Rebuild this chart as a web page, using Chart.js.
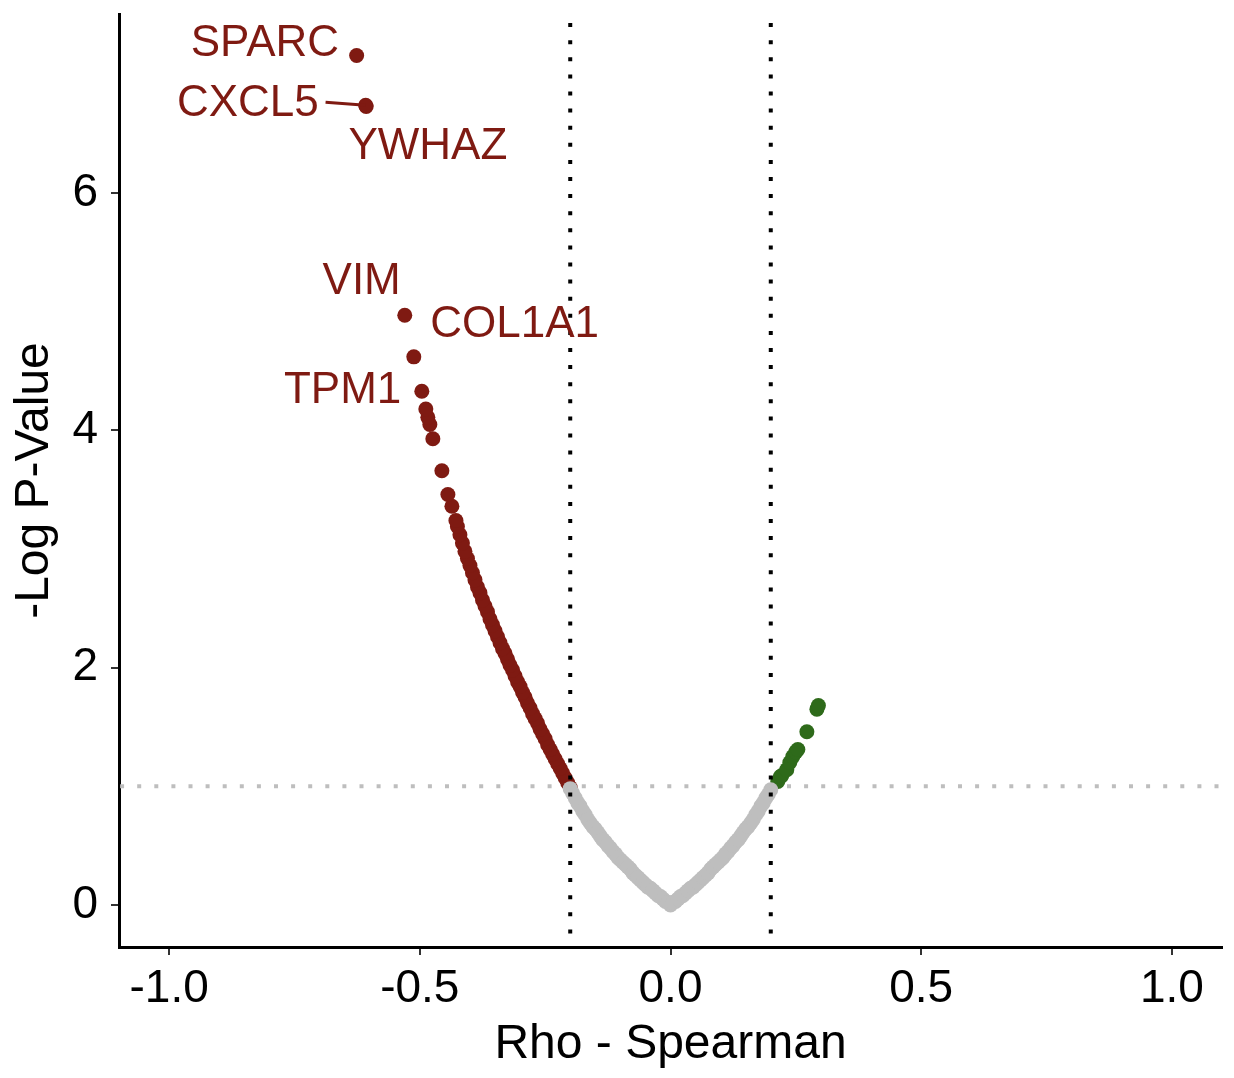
<!DOCTYPE html>
<html>
<head>
<meta charset="utf-8">
<script src="https://cdn.jsdelivr.net/npm/chart.js@4.4.1/dist/chart.umd.min.js"></script>
<style>
  body { margin: 0; background: #fff; }
  canvas { display: block; }
</style>
</head>
<body>
<canvas id="volcano" width="1234" height="1078"></canvas>
<script>
// tick labels
const xTicks = [-1.0, -0.5, 0.0, 0.5, 1.0];
const yTicks = [0, 2, 4, 6];

// not significant (grey)
const greyRho = [-0.200, -0.190, -0.180, -0.170, -0.160, -0.150, -0.140, -0.130, -0.120, -0.110,
                 -0.100, -0.090, -0.080, -0.070, -0.060, -0.050, -0.040, -0.030, -0.020, -0.010,
                  0.000,  0.010,  0.020,  0.030,  0.040,  0.050,  0.060,  0.070,  0.080,  0.090,
                  0.100,  0.110,  0.120,  0.130,  0.140,  0.150,  0.160,  0.170,  0.180,  0.190, 0.200,
                 -0.195, -0.185, -0.175, -0.165, -0.155, -0.145, -0.135, -0.125, -0.115, -0.105,
                 -0.095, -0.085, -0.075, -0.065, -0.055, -0.045, -0.035, -0.025, -0.015, -0.005,
                  0.005,  0.015,  0.025,  0.035,  0.045,  0.055,  0.065,  0.075,  0.085,  0.095,
                  0.105,  0.115,  0.125,  0.135,  0.145,  0.155,  0.165,  0.175,  0.185,  0.195];
const greyLogP = [0.98, 0.90, 0.83, 0.76, 0.69, 0.64, 0.58, 0.53, 0.48, 0.43,
                  0.38, 0.34, 0.30, 0.25, 0.21, 0.17, 0.14, 0.10, 0.07, 0.03,
                  0.00, 0.03, 0.07, 0.10, 0.14, 0.17, 0.21, 0.25, 0.30, 0.34,
                  0.38, 0.43, 0.48, 0.53, 0.58, 0.64, 0.69, 0.76, 0.83, 0.90, 0.97,
                  0.94, 0.86, 0.79, 0.72, 0.66, 0.61, 0.55, 0.50, 0.45, 0.40,
                  0.36, 0.32, 0.27, 0.23, 0.19, 0.15, 0.12, 0.08, 0.05, 0.02,
                  0.02, 0.05, 0.08, 0.12, 0.15, 0.19, 0.23, 0.27, 0.32, 0.36,
                  0.40, 0.45, 0.50, 0.55, 0.61, 0.66, 0.72, 0.79, 0.86, 0.93];

// negative correlation, significant (red)
const redRho = [-0.200, -0.205, -0.210, -0.215, -0.220, -0.225, -0.230, -0.235, -0.240, -0.245,
                -0.250, -0.255, -0.260, -0.265, -0.270, -0.275, -0.280, -0.285, -0.290, -0.295,
                -0.300, -0.305, -0.310, -0.315, -0.320, -0.325, -0.330, -0.335, -0.340, -0.345,
                -0.350, -0.355, -0.360, -0.365, -0.370, -0.375, -0.380, -0.385, -0.390, -0.395,
                -0.400, -0.405, -0.410, -0.415, -0.420, -0.425, -0.428,
                -0.436, -0.444, -0.456, -0.474, -0.480, -0.484, -0.488, -0.496, -0.512, -0.530,
                -0.607, -0.608, -0.626];
const redLogP = [0.99, 1.03, 1.07, 1.11, 1.15, 1.19, 1.23, 1.27, 1.31, 1.35,
                 1.40, 1.44, 1.48, 1.53, 1.57, 1.61, 1.66, 1.70, 1.75, 1.79,
                 1.84, 1.88, 1.93, 1.98, 2.02, 2.07, 2.12, 2.16, 2.21, 2.26,
                 2.31, 2.36, 2.41, 2.47, 2.52, 2.57, 2.63, 2.68, 2.74, 2.80,
                 2.86, 2.92, 2.98, 3.05, 3.12, 3.19, 3.24,
                 3.36, 3.46, 3.66, 3.93, 4.05, 4.11, 4.18, 4.33, 4.62, 4.97,
                 6.73, 6.74, 7.16];

// positive correlation, significant (green)
const greenRho  = [0.214, 0.219, 0.222, 0.232, 0.238, 0.244, 0.250, 0.254, 0.272, 0.292, 0.295];
const greenLogP = [1.04, 1.08, 1.09, 1.14, 1.20, 1.25, 1.29, 1.31, 1.46, 1.65, 1.68];

// labelled genes
const geneNames = ['SPARC', 'CXCL5', 'YWHAZ', 'VIM', 'COL1A1', 'TPM1'];
const geneRho   = [-0.626, -0.608, -0.607, -0.530, -0.512, -0.496];
const geneLogP  = [7.16, 6.74, 6.73, 4.97, 4.62, 4.33];

// cut-offs
const rhoCut = [-0.2, 0.2];
const logPCut = 1;

const RED = '#7f1a12';
const GREEN = '#2e6a1a';
const GREY = '#bebebe';
const FONT = '"Liberation Sans", Arial, Helvetica, sans-serif';

function toPoints(xs, ys) {
    return xs.map((x, i) => ({x: x, y: ys[i]}));
}

// where the repelled labels sit (data units)
const labelSpots = [
    {x: -0.809, y: 7.26, seg: false},
    {x: -0.843, y: 6.75, seg: true, segFrom: -0.688},
    {x: -0.484, y: 6.39, seg: false},
    {x: -0.616, y: 5.25, seg: false},
    {x: -0.311, y: 4.89, seg: false},
    {x: -0.654, y: 4.33, seg: false}
];

const refLines = {
    id: 'refLines',
    afterDatasetsDraw(chart) {
        const {ctx, chartArea, scales} = chart;
        ctx.save();
        ctx.lineCap = 'butt';
        // horizontal p cut-off
        ctx.strokeStyle = GREY;
        ctx.lineWidth = 4;
        ctx.setLineDash([4, 13.1]);
        ctx.lineDashOffset = 16;
        const yy = scales.y.getPixelForValue(logPCut);
        ctx.beginPath();
        ctx.moveTo(chartArea.left, yy);
        ctx.lineTo(chartArea.right, yy);
        ctx.stroke();
        // vertical rho cut-offs
        ctx.strokeStyle = '#000';
        ctx.lineDashOffset = 8;
        rhoCut.forEach(r => {
            const xx = scales.x.getPixelForValue(r);
            ctx.beginPath();
            ctx.moveTo(xx, chartArea.top);
            ctx.lineTo(xx, chartArea.bottom);
            ctx.stroke();
        });
        ctx.restore();

        // gene labels
        ctx.save();
        ctx.fillStyle = RED;
        ctx.strokeStyle = RED;
        ctx.font = '44px ' + FONT;
        ctx.textAlign = 'center';
        ctx.textBaseline = 'middle';
        geneNames.forEach((name, i) => {
            const spot = labelSpots[i];
            const lx = scales.x.getPixelForValue(spot.x);
            const ly = scales.y.getPixelForValue(spot.y);
            if (spot.seg) {
                ctx.lineWidth = 3;
                ctx.beginPath();
                ctx.moveTo(scales.x.getPixelForValue(spot.segFrom), ly - 2);
                ctx.lineTo(scales.x.getPixelForValue(geneRho[i]), scales.y.getPixelForValue(geneLogP[i]));
                ctx.stroke();
            }
            ctx.fillText(name, lx, ly);
        });
        ctx.restore();
    }
};

const ctx = document.getElementById('volcano').getContext('2d');
new Chart(ctx, {
    type: 'scatter',
    data: {
        datasets: [
            {
                label: 'ns',
                data: toPoints(greyRho, greyLogP),
                backgroundColor: GREY,
                borderWidth: 0,
                pointRadius: 7.5
            },
            {
                label: 'up',
                data: toPoints(greenRho, greenLogP),
                backgroundColor: GREEN,
                borderWidth: 0,
                pointRadius: 7.5
            },
            {
                label: 'down',
                data: toPoints(redRho, redLogP),
                backgroundColor: RED,
                borderWidth: 0,
                pointRadius: 7.5
            }
        ]
    },
    options: {
        responsive: false,
        animation: false,
        layout: {
            padding: {top: 14, right: 12, left: 0, bottom: 0}
        },
        plugins: {
            legend: {display: false},
            tooltip: {enabled: false}
        },
        scales: {
            x: {
                type: 'linear',
                min: -1.1,
                max: 1.1,
                afterBuildTicks: s => { s.ticks = xTicks.map(v => ({value: v})); },
                afterFit: s => { s.height = 131; s.paddingLeft = 0; s.paddingRight = 0; },
                ticks: {
                    color: '#000',
                    font: {family: FONT, size: 46},
                    padding: 7,
                    callback: v => v.toFixed(1)
                },
                grid: {
                    drawOnChartArea: false,
                    drawTicks: true,
                    tickLength: 8,
                    color: '#333',
                    lineWidth: 2
                },
                border: {color: '#000', width: 3},
                title: {
                    display: true,
                    text: 'Rho - Spearman',
                    color: '#000',
                    font: {family: FONT, size: 48},
                    padding: {top: 0, bottom: 4}
                }
            },
            y: {
                type: 'linear',
                min: -0.355,
                max: 7.51,
                afterBuildTicks: s => { s.ticks = yTicks.map(v => ({value: v})); },
                afterFit: s => { s.width = 119; s.paddingTop = 0; s.paddingBottom = 0; },
                ticks: {
                    color: '#000',
                    font: {family: FONT, size: 46},
                    padding: 13
                },
                grid: {
                    drawOnChartArea: false,
                    drawTicks: true,
                    tickLength: 8,
                    color: '#333',
                    lineWidth: 2
                },
                border: {color: '#000', width: 3},
                title: {
                    display: true,
                    text: '-Log P-Value',
                    color: '#000',
                    font: {family: FONT, size: 48},
                    padding: {top: 6, bottom: 0}
                }
            }
        }
    },
    plugins: [refLines]
});
</script>
</body>
</html>
